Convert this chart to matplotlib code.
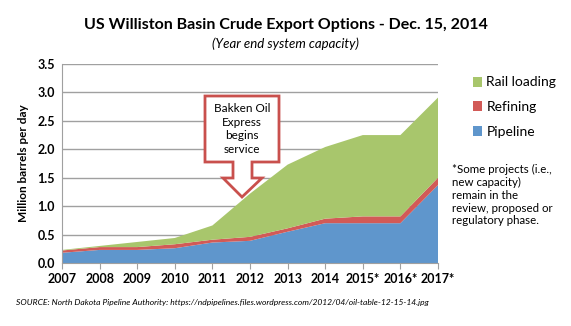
import matplotlib
matplotlib.use("Agg")
import matplotlib.pyplot as plt
from matplotlib.patches import Polygon

plt.rcParams['font.family'] = ['Lato', 'DejaVu Sans']

years = ["2007", "2008", "2009", "2010", "2011", "2012", "2013", "2014", "2015*", "2016*", "2017*"]
pipeline = [0.18, 0.23, 0.23, 0.26, 0.36, 0.39, 0.55, 0.70, 0.70, 0.70, 1.37]
refining = [0.04, 0.05, 0.05, 0.07, 0.05, 0.07, 0.06, 0.08, 0.12, 0.12, 0.13]
rail = [0.01, 0.02, 0.09, 0.11, 0.25, 0.76, 1.12, 1.26, 1.43, 1.43, 1.41]
yticks = [0.0, 0.5, 1.0, 1.5, 2.0, 2.5, 3.0, 3.5]

W, H = 571, 326
fig = plt.figure(figsize=(W / 100, H / 100), dpi=100)
ax = fig.add_axes([62 / W, 1 - 263 / H, (438 - 62) / W, (263 - 64) / H])

x = list(range(len(years)))
c_pipe = "#5F96CC"
c_ref = "#D25A57"
c_rail = "#A8C66C"
ax.stackplot(x, pipeline, refining, rail, colors=[c_pipe, c_ref, c_rail],
             labels=["Pipeline", "Refining", "Rail loading"], linewidth=0, zorder=2)

ax.set_xlim(0, len(years) - 1)
ax.set_ylim(0, 3.5)
ax.set_yticks(yticks)
ax.set_yticklabels([f"{v:.1f}" for v in yticks])
ax.set_xticks(x)
ax.set_xticklabels(years)
ax.yaxis.grid(True, color="#A0A0A0", linewidth=1.0, zorder=1)
ax.set_axisbelow(True)
for s in ["top", "right"]:
    ax.spines[s].set_visible(False)
ax.spines["left"].set_color("#A0A0A0")
ax.spines["bottom"].set_color("#A0A0A0")
ax.tick_params(axis="y", length=0, labelsize=9, pad=5)
ax.tick_params(axis="x", length=4, color="#A0A0A0", labelsize=9, pad=3)
for lab in ax.get_xticklabels() + ax.get_yticklabels():
    lab.set_fontweight("bold")
ax.set_ylabel("Million barrels per day", fontsize=8.5, fontweight="bold", labelpad=6)

fig.text(0.5, 1 - 25 / H, "US Williston Basin Crude Export Options - Dec. 15, 2014",
         ha="center", va="center", fontsize=11.5, fontweight="bold")
fig.text(0.5, 1 - 44 / H, "(Year end system capacity)", ha="center", va="center",
         fontsize=9.5, style="italic")

# legend
handles, labels = ax.get_legend_handles_labels()
leg = fig.legend(handles[::-1], labels[::-1], loc="upper left",
                 bbox_to_anchor=(460 / W, 1 - 64 / H), frameon=False, fontsize=10,
                 handlelength=0.7, handleheight=0.7, handletextpad=0.3, labelspacing=0.9)

fig.text(452 / W, 1 - 164 / H,
         "*Some projects (i.e.,\nnew capacity)\nremain in the\nreview, proposed or\nregulatory phase.",
         ha="left", va="top", fontsize=8.3, linespacing=1.2)

fig.text(16 / W, 1 - 303 / H,
         "SOURCE: North Dakota Pipeline Authority: https://ndpipelines.files.wordpress.com/2012/04/oil-table-12-15-14.jpg",
         ha="left", va="center", fontsize=6.1, style="italic")

# callout box with arrow (pixel -> figure fraction)
def P(px, py):
    return (px / W, 1 - py / H)

pts = [P(205, 96), P(279, 96), P(279, 162), P(252, 162), P(252, 178), P(262, 178),
       P(242, 197), P(223, 178), P(233, 178), P(233, 162), P(205, 162)]
poly = Polygon(pts, closed=True, facecolor="white", edgecolor="#C9504D", linewidth=2,
               transform=fig.transFigure, zorder=5)
fig.patches.append(poly)
fig.text(242 / W, 1 - 129 / H, "Bakken Oil\nExpress\nbegins\nservice", ha="center",
         va="center", fontsize=8.5, linespacing=1.3, zorder=6)

fig.savefig("out.png", dpi=100)
